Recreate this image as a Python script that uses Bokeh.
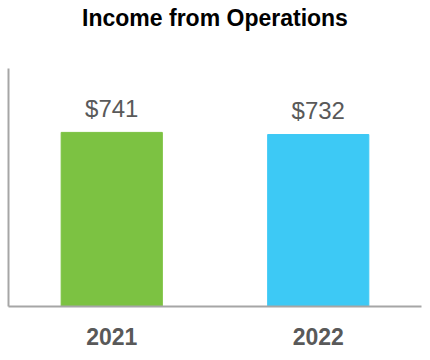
from bokeh.plotting import figure
from bokeh.models import ColumnDataSource, FixedTicker, Range1d, FactorRange, Title
from bokeh.core.properties import value
from bokeh.embed import file_html
from bokeh.resources import INLINE

years = ["2021", "2022"]
income = [741, 732]
labels = ["$741", "$732"]
colors = ["#7CC242", "#3DC9F5"]

src = ColumnDataSource(dict(x=years, top=income, label=labels, color=colors))

p = figure(frame_width=413, frame_height=238, x_range=FactorRange(*years, range_padding=0),
           y_range=Range1d(0, 1013), output_backend="svg", toolbar_location=None,
           min_border_left=8, min_border_right=2, min_border_top=0, min_border_bottom=4)

p.title.text = "Income from Operations"
p.title.text_font = "Liberation Sans"
p.title.text_font_size = "23px"
p.title.text_font_style = "bold"
p.title.text_color = "#000000"
p.title.align = "center"
p.title.standoff = 5

spacer = Title(text=" ", text_font_size="30px", standoff=0)
p.add_layout(spacer, "above")

p.vbar(x="x", top="top", width=0.49, color="color", source=src)
p.text(x="x", y="top", text="label", source=src, text_align="center",
       text_baseline="alphabetic", y_offset=-24, text_font=value("Liberation Sans"),
       text_font_size="24px", text_color="#595959")

p.outline_line_color = None
p.grid.visible = False

for ax in (p.xaxis, p.yaxis):
    ax.axis_line_color = "#A6A6A6"
    ax.axis_line_width = 2
    ax.major_tick_line_color = None
    ax.minor_tick_line_color = None
    ax.major_tick_out = 0
    ax.major_tick_in = 0

p.yaxis.ticker = FixedTicker(ticks=[])
p.yaxis.major_label_text_font_size = "0px"
p.yaxis.major_label_standoff = 0

p.xaxis.major_label_text_font = "Liberation Sans"
p.xaxis.major_label_text_font_size = "23px"
p.xaxis.major_label_text_font_style = "bold"
p.xaxis.major_label_text_color = "#595959"
p.xaxis.major_label_standoff = 21

open("out.html", "w").write(file_html(p, INLINE))
